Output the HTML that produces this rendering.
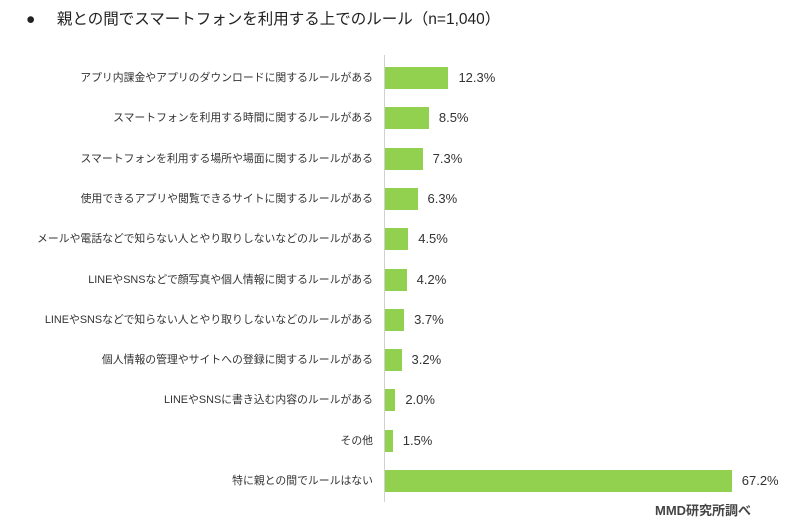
<!DOCTYPE html>
<html><head><meta charset="utf-8"><style>
body{margin:0;width:800px;height:528px;background:#fff;font-family:"Liberation Sans","Noto Sans CJK JP",sans-serif;color:#333;position:relative;overflow:hidden}
.t{position:absolute;left:26px;top:7px;font-size:15.5px;color:#222}
.ax{position:absolute;left:384px;top:55px;width:1px;height:447px;background:#d0d0d0}
.lab{position:absolute;right:427px;font-size:10.85px;white-space:nowrap;line-height:22px}
.bar{position:absolute;left:385px;height:22px;background:#92d050}
.v{position:absolute;font-size:13px;line-height:22px}
.f{position:absolute;left:655px;top:500px;font-size:13px;font-weight:bold;color:#444}
</style></head><body>
<div class="t">●&nbsp;&nbsp;&nbsp;&nbsp;&nbsp;親との間でスマートフォンを利用する上でのルール（n=1,040）</div>
<div class="ax"></div>
<div id="c"></div>
<div class="f">MMD研究所調べ</div>
<script>
var d=[["アプリ内課金やアプリのダウンロードに関するルールがある",12.3],["スマートフォンを利用する時間に関するルールがある",8.5],["スマートフォンを利用する場所や場面に関するルールがある",7.3],["使用できるアプリや閲覧できるサイトに関するルールがある",6.3],["メールや電話などで知らない人とやり取りしないなどのルールがある",4.5],["LINEやSNSなどで顔写真や個人情報に関するルールがある",4.2],["LINEやSNSなどで知らない人とやり取りしないなどのルールがある",3.7],["個人情報の管理やサイトへの登録に関するルールがある",3.2],["LINEやSNSに書き込む内容のルールがある",2.0],["その他",1.5],["特に親との間でルールはない",67.2]];
var h="";d.forEach(function(r,i){var y=67+i*40.3,w=r[1]*5.16;
h+='<div class="lab" style="top:'+y+'px">'+r[0]+'</div><div class="bar" style="top:'+y+'px;width:'+w+'px"></div><div class="v" style="top:'+y+'px;left:'+(385+w+10)+'px">'+r[1].toFixed(1)+'%</div>';});
document.getElementById("c").innerHTML=h;
</script>
</body></html>
